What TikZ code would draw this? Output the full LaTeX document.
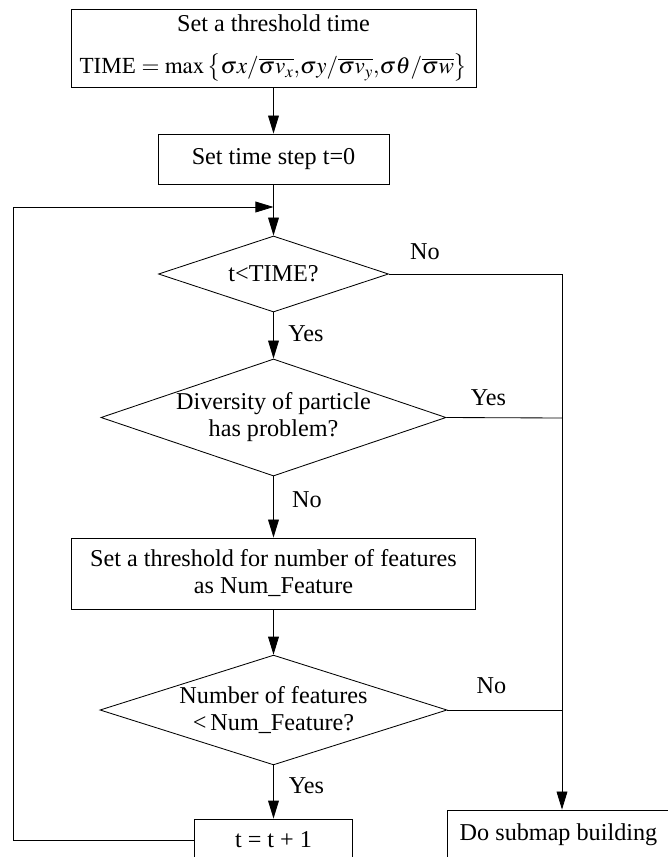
\documentclass[tikz,border=0pt]{standalone}
\usepackage{mathptmx}
\usepackage{fontspec}
\setmainfont{Liberation Serif}
\usepackage{tikz}
\usetikzlibrary{shapes,arrows.meta,positioning,calc}
\tikzstyle{process} = [rectangle, draw, inner sep=0pt, align=center, font=\fontsize{17.2}{19.2}\selectfont]
\tikzstyle{decision} = [diamond, draw, aspect=3, inner sep=0pt, align=center, font=\fontsize{17.2}{19.2}\selectfont]
\tikzstyle{tag} = [inner sep=0pt, font=\fontsize{17.2}{19.2}\selectfont]
\tikzstyle{flow} = [-{Triangle[length=0.45cm,width=0.27cm]}]

\begin{document}
\begin{tikzpicture}[x=0.025cm, y=-0.025cm, line width=0.6pt]
    \useasboundingbox (0,0) rectangle (668,857);
    \clip (0,0) rectangle (668,857);
    \node[process, minimum width=10.125cm, minimum height=1.95cm] (init) at (273.5,48)
        {Set a threshold time\\[11pt] {\fontsize{16.4}{18}\selectfont TIME $=\max\left\{\sigma x/\overline{\sigma v_x}{,}\sigma y/\overline{\sigma v_y}{,}\sigma\theta/\overline{\sigma w}\right\}$}};
    \node[process, minimum width=5.775cm, minimum height=1.25cm] (step0) at (273.5,159) {Set time step t=0};
    \node[decision, minimum width=5.75cm, minimum height=1.9cm] (chk) at (273.5,274) {t<TIME?};
    \node[decision, minimum width=8.625cm, minimum height=2.925cm] (div) at (273.5,417.5) {Diversity of particle\\has problem?};
    \node[process, minimum width=10.1cm, minimum height=1.775cm] (feat) at (273.5,573.5) {Set a threshold for number of features\\as Num\_Feature};
    \node[decision, minimum width=8.675cm, minimum height=2.65cm] (num) at (273.5,710) {Number of features\\<\,Num\_Feature?};
    \node[process, minimum width=3.95cm, minimum height=1.05cm] (incr) at (273.5,840) {t = t + 1};
    \node[process, minimum width=5.575cm, minimum height=1.25cm] (submap) at (558.5,835) {Do submap building};
    \coordinate (join) at (273.5,207);
    \coordinate (lc) at (13,840);
    \coordinate (lt) at (13,207);
    \coordinate (r1) at (562,274);
    \coordinate (r2) at (562,418);
    \coordinate (r3) at (562,710);
    \draw[flow] (init) -- (step0);
    \draw[flow] (step0) -- (chk);
    \draw[flow] (chk) -- (div);
    \draw[flow] (div) -- (feat);
    \draw[flow] (feat) -- (num);
    \draw[flow] (num) -- (incr);
    \draw[flow] (incr.west) -- (lc) -- (lt) -- (join);
    \draw (chk.east) -- (r1);
    \draw (div.east) -- (r2);
    \draw (num.east) -- (r3);
    \draw[flow] (r1) -- (r1 |- submap.north);
    \node[tag] (no1) at (425,252) {No};
    \node[tag] (yes1) at (306,334) {Yes};
    \node[tag] (yes2) at (488.5,398) {Yes};
    \node[tag] (no2) at (307,500) {No};
    \node[tag] (no3) at (491.5,686) {No};
    \node[tag] (yes3) at (306.5,786) {Yes};
\end{tikzpicture}
\end{document}
